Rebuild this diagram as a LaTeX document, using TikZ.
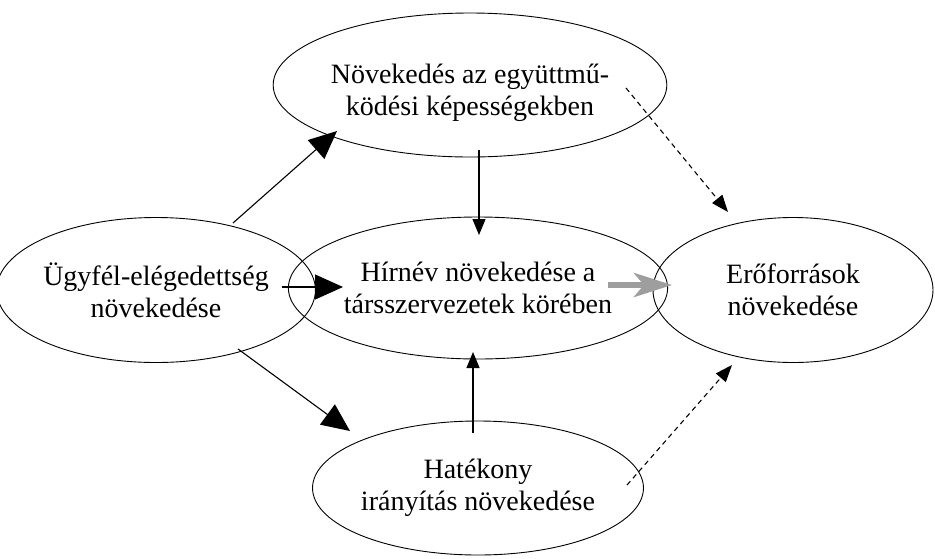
\documentclass[tikz,border=0pt]{standalone}
\usepackage{fontspec}
\setmainfont{Liberation Serif}
\usetikzlibrary{shapes.geometric,arrows.meta,calc}
\begin{document}
\begin{tikzpicture}[x=1pt,y=1pt,
  ell/.style={draw=black,line width=0.9pt,ellipse,inner sep=0pt,align=center,
    font=\fontsize{28}{32}\selectfont},
  bigarr/.style={line width=1.1pt,-{Triangle[length=28pt,width=25pt]}},
  smallarr/.style={line width=1.1pt,-{Triangle[length=16pt,width=13pt]}},
  dasharr/.style={line width=1.1pt,dash pattern=on 5pt off 4pt,-{Triangle[length=17pt,width=13pt]}},
  grayarr/.style={draw=black!38,line width=6pt,-{Stealth[length=38pt,width=24pt,inset=10pt]}}]
\useasboundingbox (0,0) rectangle (935,-558);
\node[ell,minimum width=286pt,minimum height=144pt] (T) at (470,-85) {\rule{0pt}{35pt}Növekedés az együttmű-\\ködési képességekben};
\node[ell,minimum width=294pt,minimum height=145pt] (L) at (156,-290) {Ügyfél-elégedettség\\növekedése};
\node[ell,minimum width=292pt,minimum height=142pt] (M) at (478,-288) {Hírnév növekedése a\\társszervezetek körében};
\node[ell,minimum width=280pt,minimum height=145pt] (R) at (793,-290) {Erőforrások\\növekedése};
\node[ell,minimum width=292pt,minimum height=134pt] (B) at (478,-488) {Hatékony\\irányítás növekedése};
\draw[bigarr] ($(L.center)+(77,67)$) -- ($(T.center)+(-133,-46)$);
\draw[bigarr] ($(L.center)+(126,3)$) -- ($(M.center)+(-135,1)$);
\draw[bigarr] ($(L.center)+(82,-59)$) -- ($(B.center)+(-128,57)$);
\draw[smallarr] ($(T.center)+(9,-65)$) -- ($(M.center)+(1,53)$);
\draw[smallarr] ($(B.center)+(-5,55)$) -- ($(M.center)+(-5,-64)$);
\draw[grayarr] ($(M.center)+(130,3)$) -- ($(R.center)+(-121,5)$);
\draw[dasharr] ($(T.center)+(156,-3)$) -- ($(R.center)+(-65,78)$);
\draw[dasharr] ($(B.center)+(149,3)$) -- ($(R.center)+(-61,-75)$);
\end{tikzpicture}
\end{document}
